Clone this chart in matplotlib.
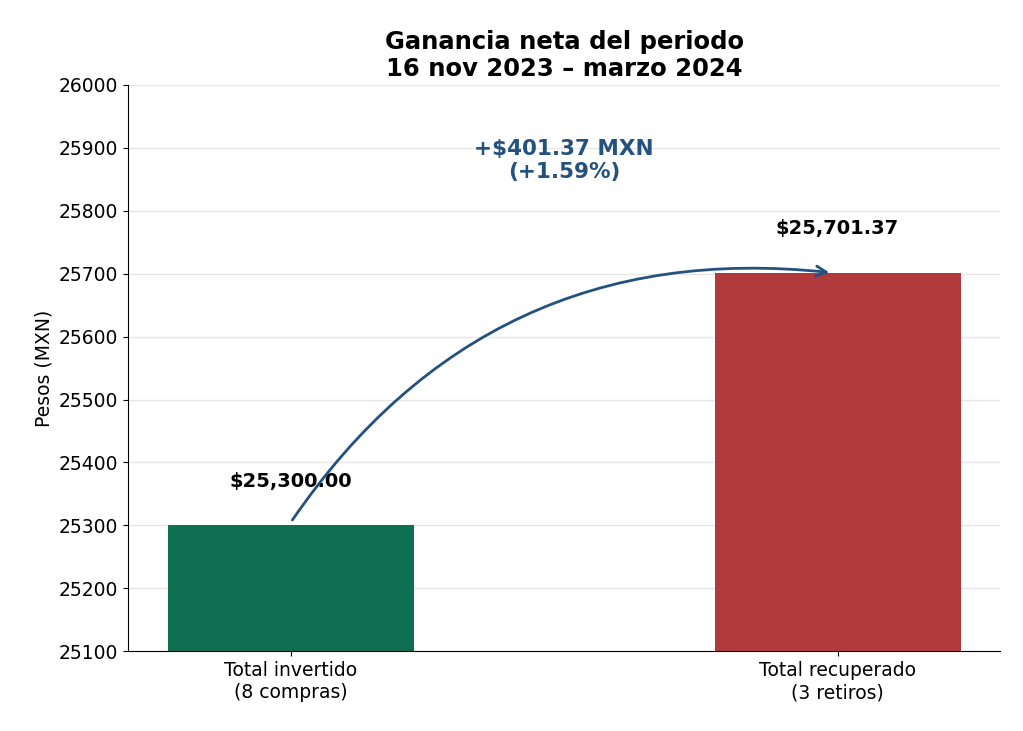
import matplotlib.pyplot as plt

categories = ['Total invertido\n(8 compras)', 'Total recuperado\n(3 retiros)']
values = [25300.00, 25701.37]
bar_labels = ['$25,300.00', '$25,701.37']
colors = ['#0e7050', '#b03a3c']
gain_text = '+$401.37 MXN\n(+1.59%)'

fig = plt.figure(figsize=(10.23, 7.31), dpi=100)
ax = fig.add_axes([0.125, 0.109, 0.853, 0.775])

x = [0, 1]
ax.bar(x, values, width=0.45, color=colors, zorder=2)
ax.set_xlim(-0.298, 1.298)
ax.set_ylim(25100, 26000)
ax.set_yticks(range(25100, 26001, 100))
ax.set_xticks(x)
ax.set_xticklabels(categories, fontsize=13.5)
ax.tick_params(axis='y', labelsize=13.5)
ax.set_ylabel('Pesos (MXN)', fontsize=13.5)
ax.grid(axis='y', color='#e6e6e6', linewidth=1, zorder=0)
ax.spines['top'].set_visible(False)
ax.spines['right'].set_visible(False)

for xi, v, lab in zip(x, values, bar_labels):
    ax.text(xi, v + 70, lab, ha='center', va='center', fontsize=14, fontweight='bold')

ax.annotate('', xy=(1 - 0.01, values[1]), xytext=(0, values[0] + 5),
            arrowprops=dict(arrowstyle='->', color='#24527f', lw=2,
                            connectionstyle='arc3,rad=-0.3', mutation_scale=18))
ax.text(0.5, 25880, gain_text, ha='center', va='center', fontsize=15.5,
        fontweight='bold', color='#24527f')

ax.set_title('Ganancia neta del periodo\n16 nov 2023 – marzo 2024',
             fontsize=17.5, fontweight='bold', pad=6)

fig.savefig('out.png', dpi=100)
